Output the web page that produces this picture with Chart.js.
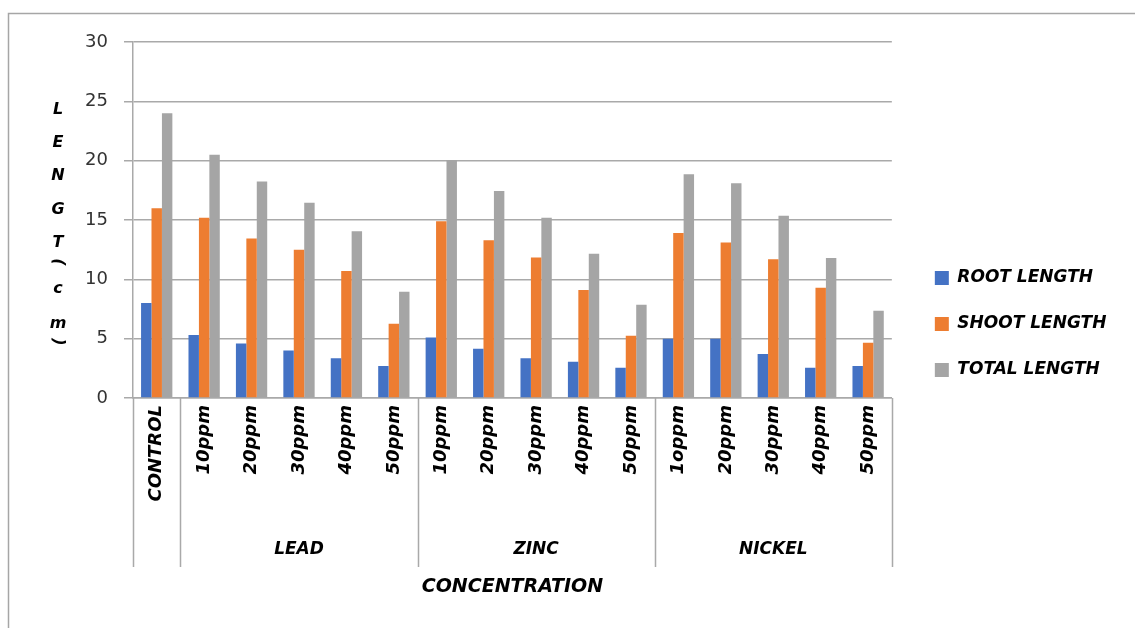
<!DOCTYPE html>
<html>
<head>
<meta charset="utf-8">
<script src="https://cdn.jsdelivr.net/npm/chart.js@4/dist/chart.umd.min.js"></script>
<style>
  html, body { margin: 0; padding: 0; background: #ffffff; }
  #wrap { width: 1135px; height: 628px; position: relative; }
</style>
</head>
<body>
<div id="wrap"><canvas id="c" width="1135" height="628"></canvas></div>
<script>
// ---- data ----
const categories = ['CONTROL',
  '10ppm', '20ppm', '30ppm', '40ppm', '50ppm',
  '10ppm', '20ppm', '30ppm', '40ppm', '50ppm',
  '1oppm', '20ppm', '30ppm', '40ppm', '50ppm'];
const groupLabels = ['', 'LEAD', 'ZINC', 'NICKEL'];
const groupStarts = [0, 1, 6, 11];
const groupEnds   = [0, 5, 10, 15];
const rootLength  = [8.0, 5.3, 4.6, 4.0, 3.35, 2.7, 5.1, 4.15, 3.35, 3.05, 2.55, 5.0, 5.0, 3.7, 2.55, 2.7];
const shootLength = [16.0, 15.2, 13.45, 12.5, 10.7, 6.25, 14.9, 13.3, 11.85, 9.1, 5.25, 13.9, 13.1, 11.7, 9.3, 4.65];
const totalLength = [24.0, 20.5, 18.25, 16.45, 14.05, 8.95, 20.05, 17.45, 15.2, 12.15, 7.85, 18.85, 18.1, 15.35, 11.8, 7.35];
const seriesNames = ['ROOT LENGTH', 'SHOOT LENGTH', 'TOTAL LENGTH'];
const yTicks = [0, 5, 10, 15, 20, 25, 30];
const yTitleChars = ['L', 'E', 'N', 'G', 'T', '(', 'c', 'm', ')'];
const xTitle = 'CONCENTRATION';

// ---- style ----
const FONT = "'DejaVu Sans'";
const colors = ['#4472C4', '#ED7D31', '#A5A5A5'];
const gridColor = '#a9a9a9';

const decorPlugin = {
  id: 'decor',
  afterLayout(chart) {
    // let the legend text run past the layout padding (no clipping), nudge down slightly
    const lg = chart.legend;
    if (lg) {
      lg.right = chart.width;
      lg.width = lg.right - lg.left;
      lg.top += 3;
      lg.bottom += 3;
    }
  },
  beforeDraw(chart) {
    const ctx = chart.ctx;
    ctx.save();
    ctx.strokeStyle = '#a6a6a6';
    ctx.lineWidth = 1.5;
    ctx.beginPath();
    ctx.moveTo(8.5, 640);
    ctx.lineTo(8.5, 13.5);
    ctx.lineTo(1140, 13.5);
    ctx.stroke();
    ctx.restore();
  },
  afterDraw(chart) {
    const ctx = chart.ctx;
    const x = chart.scales.x;
    const area = chart.chartArea;
    ctx.save();
    // group separators
    ctx.strokeStyle = gridColor;
    ctx.lineWidth = 1.5;
    const sepBottom = x.top + 169;
    const edges = [area.left];
    for (let g = 1; g < groupStarts.length; g++) {
      const i = groupStarts[g];
      edges.push((x.getPixelForValue(i - 1) + x.getPixelForValue(i)) / 2);
    }
    edges.push(area.right);
    ctx.beginPath();
    edges.forEach(px => { ctx.moveTo(Math.round(px) + 0.5, x.top); ctx.lineTo(Math.round(px) + 0.5, sepBottom); });
    ctx.stroke();
    // group labels
    ctx.fillStyle = '#000';
    ctx.font = `italic bold 17px ${FONT}`;
    ctx.textAlign = 'center';
    ctx.textBaseline = 'middle';
    for (let g = 0; g < groupLabels.length; g++) {
      if (!groupLabels[g]) continue;
      const cx = (x.getPixelForValue(groupStarts[g]) + x.getPixelForValue(groupEnds[g])) / 2;
      ctx.fillText(groupLabels[g], cx, x.top + 152);
    }
    // stacked y-axis title
    ctx.font = `italic bold 16px ${FONT}`;
    const steps = [0, 33, 33, 34, 33, 19, 27, 35, 18];
    let yy = 110;
    const cxT = 58;
    yTitleChars.forEach((ch, k) => {
      yy += steps[k];
      if (ch === '(' || ch === ')') {
        ctx.save();
        ctx.translate(cxT, yy);
        ctx.rotate(Math.PI / 2);
        ctx.fillText(ch, 0, 0);
        ctx.restore();
      } else {
        ctx.fillText(ch, cxT, yy);
      }
    });
    ctx.restore();
  }
};

const ctx = document.getElementById('c').getContext('2d');
new Chart(ctx, {
  type: 'bar',
  data: {
    labels: categories,
    datasets: [
      { label: seriesNames[0], data: rootLength, backgroundColor: colors[0] },
      { label: seriesNames[1], data: shootLength, backgroundColor: colors[1] },
      { label: seriesNames[2], data: totalLength, backgroundColor: colors[2] }
    ]
  },
  options: {
    responsive: false,
    animation: false,
    devicePixelRatio: 1,
    layout: { padding: { left: 10, top: 42, right: 50, bottom: 28 } },
    datasets: { bar: { categoryPercentage: 0.66, barPercentage: 1.0, borderWidth: 0 } },
    plugins: {
      legend: {
        position: 'right',
        labels: {
          boxWidth: 14, boxHeight: 14, padding: 29, color: '#000',
          font: { family: FONT, size: 17, style: 'italic', weight: 'bold' }
        }
      },
      tooltip: { enabled: false },
      title: { display: false }
    },
    scales: {
      x: {
        grid: { display: false, drawTicks: false },
        border: { display: true, color: gridColor, width: 1.5 },
        ticks: {
          autoSkip: false, maxRotation: 90, minRotation: 90, padding: 7, color: '#000',
          font: { family: FONT, size: 18, style: 'italic', weight: 'bold' }
        },
        title: {
          display: true, text: xTitle, color: '#000',
          font: { family: FONT, size: 19, style: 'italic', weight: 'bold' },
          padding: { top: 0, bottom: 2 }
        },
        afterFit(s) { s.height = 202; }
      },
      y: {
        min: 0, max: 30,
        afterBuildTicks(s) { s.ticks = yTicks.map(v => ({ value: v })); },
        grid: { color: gridColor, lineWidth: 1.5, tickLength: 9, drawTicks: true },
        border: { display: true, color: gridColor, width: 1.5 },
        ticks: {
          padding: 16, color: '#333',
          font: { family: FONT, size: 18 }
        },
        afterFit(s) { s.width = 123; }
      },
      yR: {
        position: 'right', display: true,
        grid: { display: false, drawTicks: false },
        border: { display: false },
        ticks: { display: false },
        afterFit(s) { s.width = 14; }
      }
    }
  },
  plugins: [decorPlugin]
});
</script>
</body>
</html>
